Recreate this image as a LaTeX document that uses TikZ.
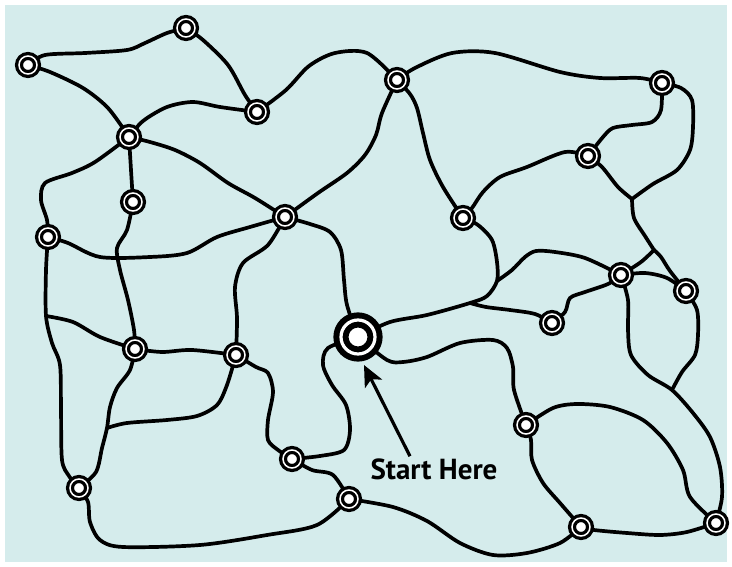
\documentclass[tikz,border=0pt]{standalone}
\usepackage{fontspec}
\setsansfont{PT Sans}
\usetikzlibrary{arrows.meta}
\definecolor{paper}{RGB}{213,236,236}
\pgfdeclarelayer{bg}
\pgfdeclarelayer{edges}
\pgfsetlayers{bg,edges,main}
\begin{document}
\begin{tikzpicture}[x=1pt,y=-1pt,
  stop/.style={circle,inner sep=0pt,minimum size=18pt,draw=black,line width=3.3pt,double=white,double distance=1.5pt,fill=white},
  startstop/.style={circle,inner sep=0pt,minimum size=34pt,draw=black,line width=6pt,double=white,double distance=3.2pt,fill=white},
  road/.style={line width=3.7pt,line cap=round,line join=round},
  pointer/.style={line width=3.2pt,-{Stealth[length=21pt,width=19pt,inset=5pt]}},
  lbl/.style={font=\sffamily\bfseries\fontsize{29}{32}\selectfont,inner sep=2pt}]
\begin{pgfonlayer}{bg}
\fill[white] (0,0) rectangle (732,567);
\fill[paper] (5,5) rectangle (727,562);
\end{pgfonlayer}
% stops
\node[stop] (N1) at (28,65) {};
\node[stop] (N2) at (186,28) {};
\node[stop] (N3) at (257,112) {};
\node[stop] (N4) at (129,137) {};
\node[stop] (N5) at (133,202) {};
\node[stop] (N6) at (48,237) {};
\node[stop] (N7) at (285,217) {};
\node[stop] (N8) at (397,80) {};
\node[stop] (N9) at (662,83) {};
\node[stop] (N10) at (588,156) {};
\node[stop] (N11) at (463,218) {};
\node[stop] (N12) at (621,275) {};
\node[stop] (N13) at (686,291) {};
\node[stop] (N14) at (552,323) {};
\node[startstop] (S) at (358,337) {};
\node[stop] (N15) at (135,349) {};
\node[stop] (N16) at (236,355) {};
\node[stop] (N17) at (292,459) {};
\node[stop] (N18) at (349,499) {};
\node[stop] (N19) at (79,488) {};
\node[stop] (N20) at (526,425) {};
\node[stop] (N21) at (581,527) {};
\node[stop] (N22) at (716,523) {};
% junctions
\coordinate (J1) at (46,316);
\coordinate (J2) at (107,428);
\coordinate (J3) at (497,281);
\coordinate (J4) at (470,303);
\coordinate (J5) at (672,390);
\coordinate (J6) at (632,199);
\coordinate (J7) at (654,250);
% label and pointer
\node[lbl] (here) at (434,469) {Start Here};
\coordinate (tip) at (364,365);
\draw[pointer] ([xshift=-24pt]here.north) -- (tip);
\begin{pgfonlayer}{edges}
\draw[road] plot[smooth] coordinates {(N1) (45,55) (85,53) (127,50) (145,43) (167,33) (N2)};
\draw[road] plot[smooth] coordinates {(N1) (50,72) (83,88) (108,108) (N4)};
\draw[road] plot[smooth] coordinates {(N2) (203,40) (228,65) (245,95) (N3)};
\draw[road] plot[smooth] coordinates {(N3) (286,90) (309,66) (335,53) (367,53) (N8)};
\draw[road] plot[smooth] coordinates {(N4) (143,121) (167,107) (193,102) (220,107) (N3)};
\draw[road] plot[smooth] coordinates {(N4) (131,170) (N5)};
\draw[road] plot[smooth] coordinates {(N4) (150,142) (175,150) (200,163) (228,183) (255,198) (N7)};
\draw[road] plot[smooth] coordinates {(N4) (95,162) (72,173) (45,183) (41,200) (47,220) (N6)};
\draw[road] plot[smooth] coordinates {(N5) (127,230) (117,248) (120,270) (128,300) (134,330) (N15)};
\draw[road] plot[smooth] coordinates {(N6) (68,243) (100,257) (150,257) (187,253) (217,237) (250,227) (N7)};
\draw[road] plot[smooth] coordinates {(N7) (318,193) (347,173) (365,155) (376,135) (382,113) (N8)};
\draw[road] plot[smooth] coordinates {(N7) (268,245) (243,263) (235,287) (237,318) (N16)};
\draw[road] plot[smooth] coordinates {(N7) (310,224) (330,232) (341,250) (344,280) (347,305) (S)};
\draw[road] plot[smooth] coordinates {(S) (328,348) (323,365) (332,385) (346,405) (350,430) (344,450) (320,456) (N17)};
\draw[road] plot[smooth] coordinates {(N17) (312,470) (333,475) (N18)};
\draw[road] plot[smooth] coordinates {(N16) (256,367) (268,373) (273,392) (268,420) (268,440) (278,450) (N17)};
\draw[road] plot[smooth] coordinates {(N6) (46,270) (J1) (52,343) (60,365) (61,410) (62,460) (69,476) (N19)};
\draw[road] plot[smooth] coordinates {(J1) (73,322) (100,337) (N15)};
\draw[road] plot[smooth] coordinates {(N15) (162,352) (192,350) (N16)};
\draw[road] plot[smooth] coordinates {(N15) (130,370) (117,388) (110,407) (J2) (102,448) (96,472) (N19)};
\draw[road] plot[smooth] coordinates {(J2) (127,423) (167,420) (197,416) (217,405) (227,385) (N16)};
\draw[road] plot[smooth] coordinates {(N19) (88,502) (90,522) (100,540) (123,547) (200,545) (267,535) (317,525) (N18)};
\draw[road] plot[smooth] coordinates {(N18) (393,507) (427,521) (460,543) (493,555) (527,553) (560,543) (N21)};
\draw[road] plot[smooth] coordinates {(N21) (594,530) (627,533) (660,535) (687,532) (N22)};
\draw[road] plot[smooth] coordinates {(N20) (531,440) (532,460) (543,483) (560,503) (N21)};
\draw[road] plot[smooth] coordinates {(N20) (553,408) (577,404) (610,407) (643,420) (667,443) (683,470) (690,497) (N22)};
\draw[road] plot[smooth] coordinates {(S) (387,360) (403,362) (427,357) (460,343) (493,340) (507,348) (513,367) (514,390) (N20)};
\draw[road] plot[smooth] coordinates {(S) (390,322) (427,315) (J4) (487,296) (J3) (497,262) (492,240) (478,225) (N11)};
\draw[road] plot[smooth] coordinates {(J3) (512,270) (525,257) (536,251) (555,252) (585,258) (N12)};
\draw[road] plot[smooth] coordinates {(J4) (486,307) (510,310) (535,314) (N14)};
\draw[road] plot[smooth] coordinates {(N14) (565,312) (570,298) (585,292) (608,284) (N12)};
\draw[road] plot[smooth] coordinates {(N12) (628,300) (628,330) (631,355) (648,375) (J5) (693,413) (710,437) (720,467) (722,497) (N22)};
\draw[road] plot[smooth] coordinates {(N13) (697,310) (698,335) (695,355) (682,372) (J5)};
\draw[road] plot[smooth] coordinates {(N12) (645,273) (667,278) (N13)};
\draw[road] plot[smooth] coordinates {(J7) (661,257) (670,271) (N13)};
\draw[road] plot[smooth] coordinates {(J7) (641,262) (N12)};
\draw[road] plot[smooth] coordinates {(J6) (634,218) (645,236) (J7)};
\draw[road] plot[smooth] coordinates {(N10) (602,167) (618,187) (J6)};
\draw[road] plot[smooth] coordinates {(N9) (681,88) (692,100) (693,127) (690,150) (677,170) (653,184) (J6)};
\draw[road] plot[smooth] coordinates {(N9) (661,110) (652,122) (632,125) (613,128) (603,137) (N10)};
\draw[road] plot[smooth] coordinates {(N8) (415,68) (452,53) (495,53) (560,72) (600,78) (640,78) (N9)};
\draw[road] plot[smooth] coordinates {(N8) (410,94) (417,108) (423,133) (430,160) (443,187) (N11)};
\draw[road] plot[smooth] coordinates {(N11) (472,208) (483,192) (500,177) (527,167) (565,152) (N10)};
\end{pgfonlayer}
\end{tikzpicture}
\end{document}
